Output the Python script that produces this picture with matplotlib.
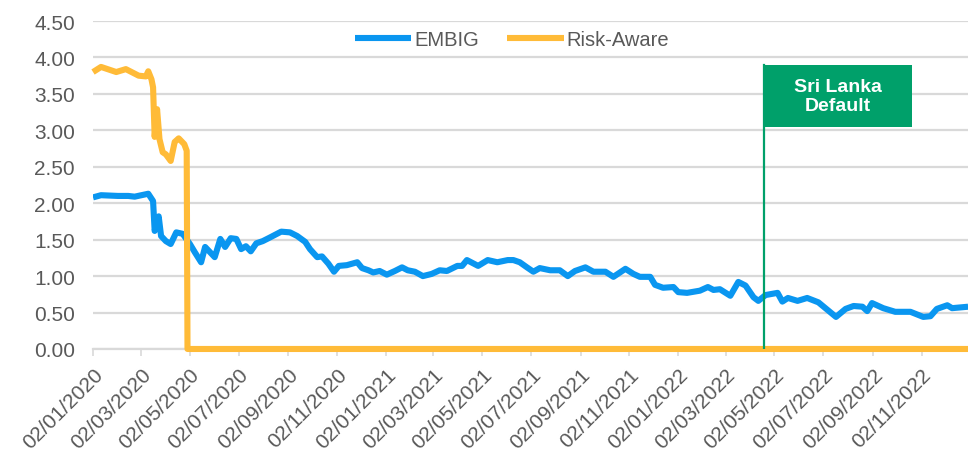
import matplotlib.pyplot as plt
import matplotlib.dates as mdates
from matplotlib.patches import Rectangle
import pandas as pd

plt.rcParams['font.family'] = ['Liberation Sans', 'DejaVu Sans']

# EMBIG series (roughly weekly)
embig_dates = [
    "2020-01-02", "2020-01-12", "2020-02-02", "2020-02-15", "2020-02-23", "2020-03-11",
    "2020-03-17", "2020-03-19", "2020-03-24", "2020-03-27", "2020-04-02", "2020-04-08",
    "2020-04-15", "2020-04-23", "2020-05-02", "2020-05-08", "2020-05-16", "2020-05-21",
    "2020-05-27", "2020-06-02", "2020-06-09", "2020-06-15", "2020-06-22", "2020-06-29",
    "2020-07-05", "2020-07-11", "2020-07-17", "2020-07-24", "2020-08-01", "2020-08-10",
    "2020-08-24", "2020-09-04", "2020-09-13", "2020-09-23", "2020-09-29", "2020-10-08",
    "2020-10-14", "2020-10-22", "2020-10-29", "2020-11-04", "2020-11-14", "2020-11-27",
    "2020-12-03", "2020-12-11", "2020-12-17", "2020-12-25", "2021-01-03", "2021-01-13",
    "2021-01-22", "2021-01-29", "2021-02-07", "2021-02-17", "2021-02-28", "2021-03-10",
    "2021-03-19", "2021-04-01", "2021-04-07", "2021-04-13", "2021-04-27", "2021-05-09",
    "2021-05-21", "2021-06-03", "2021-06-10", "2021-06-18", "2021-06-27", "2021-07-05",
    "2021-07-13", "2021-07-26", "2021-08-07", "2021-08-17", "2021-08-26", "2021-09-08",
    "2021-09-18", "2021-10-03", "2021-10-13", "2021-10-28", "2021-11-07", "2021-11-15",
    "2021-11-28", "2021-12-04", "2021-12-14", "2021-12-27", "2022-01-02", "2022-01-13",
    "2022-01-29", "2022-02-08", "2022-02-15", "2022-02-23", "2022-03-08", "2022-03-18",
    "2022-03-27", "2022-04-06", "2022-04-12", "2022-04-21", "2022-05-06", "2022-05-12",
    "2022-05-19", "2022-05-31", "2022-06-12", "2022-06-26", "2022-07-07", "2022-07-18",
    "2022-07-30", "2022-08-09", "2022-08-20", "2022-08-26", "2022-09-01", "2022-09-15",
    "2022-09-30", "2022-10-19", "2022-11-04", "2022-11-13", "2022-11-21", "2022-12-04",
    "2022-12-10", "2022-12-30",
]
embig_values = [
    2.08, 2.11, 2.10, 2.10, 2.09, 2.13,
    2.03, 1.62, 1.82, 1.55, 1.48, 1.44,
    1.60, 1.58, 1.44, 1.33, 1.19, 1.40,
    1.33, 1.26, 1.51, 1.40, 1.52, 1.51,
    1.37, 1.41, 1.34, 1.45, 1.48, 1.53,
    1.61, 1.60, 1.55, 1.47, 1.37, 1.26,
    1.27, 1.17, 1.06, 1.14, 1.15, 1.19,
    1.11, 1.08, 1.05, 1.07, 1.02, 1.07,
    1.12, 1.08, 1.06, 1.00, 1.03, 1.08,
    1.07, 1.14, 1.14, 1.22, 1.14, 1.22,
    1.19, 1.22, 1.22, 1.19, 1.12, 1.06,
    1.11, 1.08, 1.08, 1.00, 1.07, 1.12,
    1.06, 1.06, 0.99, 1.10, 1.03, 0.99,
    0.99, 0.88, 0.84, 0.85, 0.78, 0.77,
    0.80, 0.85, 0.81, 0.82, 0.73, 0.92,
    0.87, 0.71, 0.66, 0.74, 0.77, 0.65,
    0.70, 0.66, 0.70, 0.64, 0.54, 0.44,
    0.55, 0.59, 0.58, 0.52, 0.63, 0.56,
    0.51, 0.51, 0.44, 0.45, 0.55, 0.60,
    0.56, 0.58,
]

# Risk-Aware series
risk_dates = [
    "2020-01-02", "2020-01-12", "2020-01-31", "2020-02-12", "2020-02-28", "2020-03-08",
    "2020-03-11", "2020-03-15", "2020-03-17", "2020-03-19", "2020-03-22", "2020-03-25",
    "2020-03-29", "2020-04-02", "2020-04-08", "2020-04-13", "2020-04-18", "2020-04-25",
    "2020-04-28", "2020-04-29", "2022-12-30",
]
risk_values = [
    3.80, 3.87, 3.80, 3.84, 3.75, 3.74,
    3.81, 3.70, 3.59, 2.91, 3.29, 2.88,
    2.70, 2.67, 2.58, 2.84, 2.89, 2.81,
    2.72, 0.00, 0.00,
]

default_date = "2022-04-19"
default_label = "Sri Lanka\nDefault"

# ticks on the 2nd of every other month
tick_dates = pd.date_range("2020-01-01", "2022-11-01", freq="2MS") + pd.Timedelta(days=1)

blue = "#0A96F0"
orange = "#FFBB38"
green = "#00A06A"
grey_text = "#595959"

fig = plt.figure(figsize=(9.68, 4.52), dpi=100)
ax = fig.add_axes([0.0961, 0.2257, 0.904, 0.7256])

ax.plot(pd.to_datetime(embig_dates), embig_values, color=blue, lw=4.4,
        solid_joinstyle="round", solid_capstyle="butt", label="EMBIG", zorder=3)
ax.plot(pd.to_datetime(risk_dates), risk_values, color=orange, lw=4.4,
        solid_joinstyle="round", solid_capstyle="butt", label="Risk-Aware",
        zorder=3, clip_on=False)

ax.set_ylim(0, 4.5)
ax.set_yticks([i * 0.5 for i in range(10)])
ax.yaxis.set_major_formatter(plt.FuncFormatter(lambda v, p: f"{v:.2f}"))
ax.set_xlim(pd.Timestamp("2020-01-02"), pd.Timestamp("2022-12-30"))
ax.set_xticks(tick_dates)
ax.xaxis.set_major_formatter(mdates.DateFormatter("%d/%m/%Y"))

ax.grid(axis="y", color="#D9D9D9", lw=1.6, zorder=0)
for s in ["top", "right", "left"]:
    ax.spines[s].set_visible(False)
ax.spines["bottom"].set_color("#D9D9D9")
ax.spines["bottom"].set_linewidth(1.6)
ax.tick_params(axis="y", length=0, labelsize=15, labelcolor=grey_text, pad=13)
ax.tick_params(axis="x", length=5, width=1.2, color="#D9D9D9", labelsize=15,
               labelcolor=grey_text, pad=6)
for lab in ax.get_xticklabels():
    lab.set_rotation(45)
    lab.set_ha("right")
    lab.set_rotation_mode("anchor")

# default marker: vertical line plus label box
d = pd.Timestamp(default_date)
ax.plot([d, d], [0, 3.9], color=green, lw=1.6, zorder=4)
ax.add_patch(Rectangle((mdates.date2num(d), 3.045), 185, 0.855,
                       facecolor=green, edgecolor="none", zorder=5))
ax.text(mdates.date2num(d) + 92, 3.47, default_label, color="white",
        fontsize=14, fontweight="bold", ha="center", va="center",
        linespacing=1.15, zorder=6)

ax.legend(loc="center", bbox_to_anchor=(0.479, 0.945), ncol=2, frameon=False,
          fontsize=14.5, labelcolor=grey_text, handlelength=2.8,
          handletextpad=0.15, columnspacing=1.4)

fig.savefig("out.png", dpi=100)
